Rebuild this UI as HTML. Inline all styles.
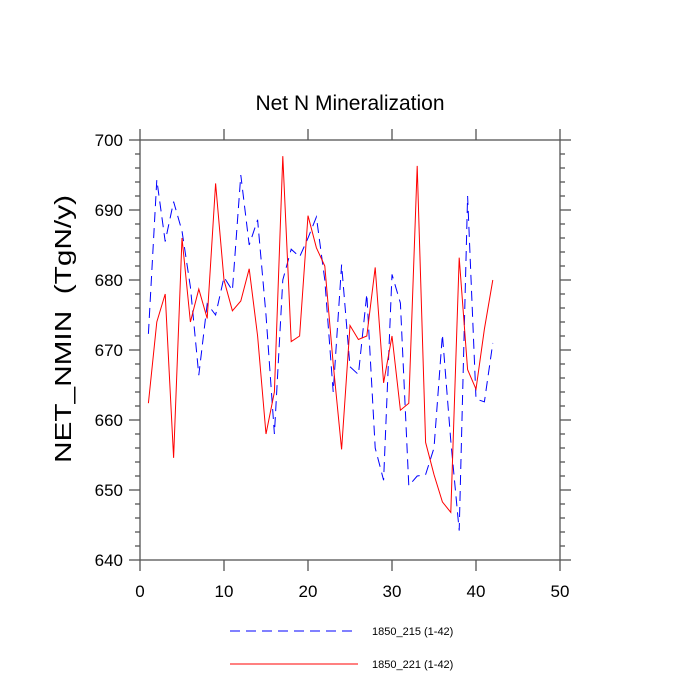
<!DOCTYPE html>
<html><head><meta charset="utf-8"><style>body{margin:0;background:#fff}svg{display:block}</style></head>
<body>
<svg id="chart" width="700" height="700" xmlns="http://www.w3.org/2000/svg" font-family="Liberation Sans, sans-serif">
<text x="350" y="110" text-anchor="middle" font-size="21">Net N Mineralization</text>
<text transform="translate(71,329) rotate(-90)" text-anchor="middle" font-size="23" textLength="268" lengthAdjust="spacingAndGlyphs" style="white-space:pre">NET_NMIN  (TgN/y)</text>
<g id="axes"></g>
<g id="series"></g>
<g>
<line x1="230" y1="631" x2="358" y2="631" stroke="#00f" stroke-width="1" stroke-dasharray="10,6"/>
<text x="372" y="635" font-size="11">1850_215 (1-42)</text>
<line x1="230" y1="664" x2="358" y2="664" stroke="#f00" stroke-width="1"/>
<text x="372" y="668" font-size="11">1850_221 (1-42)</text>
</g>
</svg>
<script>
const xTicks=[0,10,20,30,40,50];
const yTicks=[640,650,660,670,680,690,700];
const years=[];for(let i=1;i<=42;i++)years.push(i);
const series215=[672.3,694.3,685.5,691.2,687,679,666.4,676.6,675,680.4,678.5,695,685,688.6,675,658,680,684.4,683.3,686,689,680,664,682.2,667.6,666.5,678,656,651.4,680.8,676.7,650.6,652,652.2,656,672.2,657,644.2,692,663,662.6,671];
const series221=[662.4,674,678,654.6,686,674,678.7,674.5,693.8,680,675.6,677,681.6,672,658,664,697.7,671.2,672,689.2,684.6,682,668,655.8,673.5,671.5,672,681.8,665.3,672,661.4,662.4,696.3,656.8,652.2,648.3,646.8,683.2,667.2,664.4,673,680];
const L=140,R=560,T=140,B=560;
const sx=v=>L+(v-0)/(50-0)*(R-L);
const sy=v=>B-(v-640)/(700-640)*(B-T);
const NS="http://www.w3.org/2000/svg";
const AX='#555';
function mk(tag,attrs,parent){const e=document.createElementNS(NS,tag);for(const k in attrs)e.setAttribute(k,attrs[k]);parent.appendChild(e);return e;}
const ax=document.getElementById('axes');
const frame=mk('rect',{x:L,y:T,width:R-L,height:B-T,fill:'none',stroke:AX,'stroke-width':1.3},ax);


xTicks.forEach(v=>{const x=sx(v);
 mk('line',{x1:x,y1:B,x2:x,y2:B+11,stroke:AX,'stroke-width':1.3},ax);
 mk('line',{x1:x,y1:T,x2:x,y2:T-11,stroke:AX,'stroke-width':1.3},ax);});
for(let v=640;v<=700;v+=2){const y=sy(v);const len=(v%10===0)?11:5;
 mk('line',{x1:L,y1:y,x2:L-len,y2:y,stroke:AX,'stroke-width':1.3},ax);
 mk('line',{x1:R,y1:y,x2:R+len,y2:y,stroke:AX,'stroke-width':1.3},ax);}
xTicks.forEach(v=>{const t=mk('text',{x:sx(v),y:B+37,'text-anchor':'middle','font-size':17},ax);t.textContent=v;
 
 });
yTicks.forEach(v=>{const t=mk('text',{x:L-17,y:sy(v)+6,'text-anchor':'end','font-size':17},ax);t.textContent=v;
 
 });
const sg=document.getElementById('series');
function pts(arr){return arr.map((v,i)=>sx(years[i])+','+sy(v)).join(' ');}
const p1=mk('polyline',{points:pts(series215),fill:'none',stroke:'#00f','stroke-width':1,'stroke-dasharray':'10,6'},sg);


const p2=mk('polyline',{points:pts(series221),fill:'none',stroke:'#f00','stroke-width':1},sg);


</script>
</body></html>
